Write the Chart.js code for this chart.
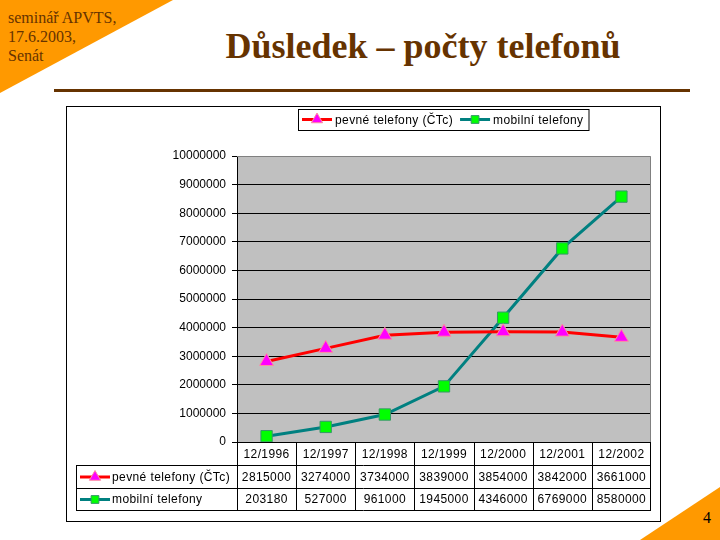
<!doctype html>
<html lang="cs">
<head>
<meta charset="utf-8">
<title>Důsledek – počty telefonů</title>
<script src="https://cdn.jsdelivr.net/npm/chart.js@4.4.0/dist/chart.umd.min.js"></script>
<style>
  html, body { margin: 0; padding: 0; background: #fff; }
  body { width: 720px; height: 540px; position: relative; overflow: hidden; font-family: "Liberation Serif", "Times New Roman", serif; }
  .tri-tl { position: absolute; left: 0; top: 0; width: 173px; height: 93px; background: #FF9900;
            clip-path: polygon(0 0, 100% 0, 0 100%); }
  .tri-br { position: absolute; left: 640px; top: 487px; width: 80px; height: 53px; background: #FF9900;
            clip-path: polygon(100% 0, 100% 100%, 0 100%); }
  .info { position: absolute; left: 8px; top: 8px; font-size: 16px; line-height: 19px; color: #663300; }
  .title { position: absolute; left: 123px; top: 28px; width: 600px; text-align: center; font-size: 36px;
           line-height: 36px; font-weight: bold; color: #663300; white-space: nowrap; }
  .rule { position: absolute; left: 54px; top: 89px; width: 636px; height: 3px; background: #663300; }
  .num { position: absolute; left: 703px; top: 510px; font-size: 16px; line-height: 16px; color: #000; }
  .box { position: absolute; left: 66px; top: 106px; width: 593px; height: 414px; border: 1px solid #000; background: #fff; }
  canvas { display: block; }
</style>
</head>
<body>
  <div class="tri-tl"></div>
  <div class="tri-br"></div>
  <div class="info">seminář APVTS,<br>17.6.2003,<br>Senát</div>
  <div class="title">Důsledek – počty telefonů</div>
  <div class="rule"></div>
  <div class="num">4</div>
  <div class="box"><canvas id="myChart" width="593" height="414"></canvas></div>

<script>
  // data
  var categories = ['12/1996', '12/1997', '12/1998', '12/1999', '12/2000', '12/2001', '12/2002'];
  var pevne = [2815000, 3274000, 3734000, 3839000, 3854000, 3842000, 3661000];
  var mobilni = [203180, 527000, 961000, 1945000, 4346000, 6769000, 8580000];
  var seriesNames = ['pevné telefony (ČTc)', 'mobilní telefony'];

  var FONT = '12px "Liberation Sans", Arial, sans-serif';

  function marker(ctx, style, x, y, r, fill, stroke) {
    ctx.save();
    ctx.beginPath();
    if (style === 'triangle') {
      ctx.moveTo(x, y - r);
      ctx.lineTo(x + 0.866 * r, y + 0.5 * r);
      ctx.lineTo(x - 0.866 * r, y + 0.5 * r);
      ctx.closePath();
    } else {
      var s = r * Math.SQRT1_2;
      ctx.rect(x - s, y - s, 2 * s, 2 * s);
    }
    ctx.fillStyle = fill;
    ctx.fill();
    ctx.lineWidth = 1;
    ctx.strokeStyle = stroke;
    ctx.stroke();
    ctx.restore();
  }

  // line sample with marker in the middle
  function key(ctx, ds, x, y, len, r) {
    ctx.save();
    ctx.strokeStyle = ds.borderColor;
    ctx.lineWidth = 3;
    ctx.beginPath();
    ctx.moveTo(x, y);
    ctx.lineTo(x + len, y);
    ctx.stroke();
    ctx.restore();
    marker(ctx, ds.pointStyle, x + len / 2, y, ds.pointStyle === 'triangle' ? r + 1 : r, ds.pointBackgroundColor, ds.pointBorderColor);
  }

  var slidePlugin = {
    id: 'slidePlugin',
    beforeDraw: function(chart) {
      var ctx = chart.ctx, a = chart.chartArea;
      ctx.save();
      ctx.fillStyle = '#C0C0C0';
      ctx.fillRect(a.left, a.top, a.right - a.left, a.bottom - a.top);
      ctx.restore();
    },
    beforeDatasetsDraw: function(chart) {
      var ctx = chart.ctx, a = chart.chartArea;
      ctx.save();
      ctx.strokeStyle = '#808080';
      ctx.lineWidth = 1;
      ctx.beginPath();
      ctx.moveTo(a.left, a.top + 0.5);
      ctx.lineTo(a.right - 0.5, a.top + 0.5);
      ctx.lineTo(a.right - 0.5, a.bottom);
      ctx.stroke();
      ctx.restore();
    },
    afterDraw: function(chart) {
      var ctx = chart.ctx, a = chart.chartArea;
      var xs = chart.scales.x;
      var sets = chart.data.datasets;
      ctx.save();
      ctx.font = FONT;
      ctx.letterSpacing = '0.4px';
      ctx.fillStyle = '#000';
      ctx.textBaseline = 'middle';

      // legend at the top
      var lx = 235, ly = 12.5, bx = 231;
      var w = 0;
      sets.forEach(function(ds) { w += 33 + ctx.measureText(ds.label).width + 7; });
      ctx.strokeStyle = '#000';
      ctx.lineWidth = 1;
      ctx.strokeRect(bx + 0.5, 2.5, w + 2, 21);
      sets.forEach(function(ds) {
        key(ctx, ds, lx, ly, 30, 5.5);
        ctx.textAlign = 'left';
        ctx.fillStyle = '#000';
        ctx.fillText(ds.label, lx + 33, ly + 1);
        lx += 33 + ctx.measureText(ds.label).width + 7;
      });

      // data table under the plot
      var rows = [a.bottom, a.bottom + 23, a.bottom + 46, a.bottom + 68];
      var leftEdge = 9;
      var n = chart.data.labels.length;
      var bounds = [a.left];
      for (var i = 1; i < n; i++) {
        bounds.push(Math.round((xs.getPixelForValue(i - 1) + xs.getPixelForValue(i)) / 2));
      }
      bounds.push(a.right);

      ctx.strokeStyle = '#000';
      ctx.lineWidth = 1;
      ctx.beginPath();
      bounds.forEach(function(bx2, k) {
        var px = k === bounds.length - 1 ? bx2 - 0.5 : bx2 + 0.5;
        ctx.moveTo(px, rows[0]);
        ctx.lineTo(px, rows[3]);
      });
      for (var r = 1; r < 4; r++) {
        ctx.moveTo(leftEdge, rows[r] + 0.5);
        ctx.lineTo(a.right, rows[r] + 0.5);
      }
      ctx.moveTo(leftEdge + 0.5, rows[1]);
      ctx.lineTo(leftEdge + 0.5, rows[3] + 1);
      ctx.stroke();

      ctx.textAlign = 'center';
      ctx.fillStyle = '#000';
      chart.data.labels.forEach(function(lab, i) {
        var cx = xs.getPixelForValue(i);
        ctx.fillText(lab, cx, (rows[0] + rows[1]) / 2 + 1);
        sets.forEach(function(ds, j) {
          ctx.fillText(String(ds.data[i]), cx, (rows[j + 1] + rows[j + 2]) / 2 + 1);
        });
      });

      sets.forEach(function(ds, j) {
        var yy = (rows[j + 1] + rows[j + 2]) / 2 + 0.5;
        key(ctx, ds, leftEdge + 4, yy, 30, 5.5);
        ctx.textAlign = 'left';
        ctx.fillStyle = '#000';
        ctx.fillText(ds.label, leftEdge + 36, yy + 0.5);
      });
      ctx.restore();
    }
  };

  var ctx = document.getElementById('myChart').getContext('2d');
  var myChart = new Chart(ctx, {
    type: 'line',
    data: {
      labels: categories,
      datasets: [{
        label: seriesNames[0],
        data: pevne,
        borderColor: '#FF0000',
        borderWidth: 3,
        pointStyle: 'triangle',
        pointRadius: 8,
        pointBackgroundColor: '#FF00FF',
        pointBorderColor: '#FF8C9E',
        pointBorderWidth: 1,
        tension: 0
      }, {
        label: seriesNames[1],
        data: mobilni,
        borderColor: '#008080',
        borderWidth: 3,
        pointStyle: 'rect',
        pointRadius: 8,
        pointBackgroundColor: '#00FF00',
        pointBorderColor: '#339966',
        pointBorderWidth: 1,
        tension: 0
      }]
    },
    options: {
      responsive: false,
      animation: false,
      devicePixelRatio: 1,
      layout: { padding: { top: 49, right: 8, bottom: 0, left: 0 } },
      plugins: { legend: { display: false }, tooltip: { enabled: false } },
      scales: {
        x: {
          type: 'category',
          offset: true,
          grid: { display: false },
          border: { display: false },
          ticks: { display: false },
          afterFit: function(axis) { axis.height = 79; }
        },
        y: {
          min: 0,
          max: 10000000,
          ticks: {
            stepSize: 1000000,
            color: '#000',
            padding: 6,
            font: { family: '"Liberation Sans", Arial, sans-serif', size: 12 },
            callback: function(v) { return String(v); }
          },
          grid: {
            color: function(c) { return c.tick && c.tick.value === 10000000 ? 'rgba(0,0,0,0)' : '#000'; },
            tickColor: '#000',
            tickLength: 5,
            lineWidth: 1
          },
          border: { display: true, color: '#000', width: 1 },
          afterFit: function(axis) { axis.width = 170; }
        }
      }
    },
    plugins: [slidePlugin]
  });
</script>
</body>
</html>
